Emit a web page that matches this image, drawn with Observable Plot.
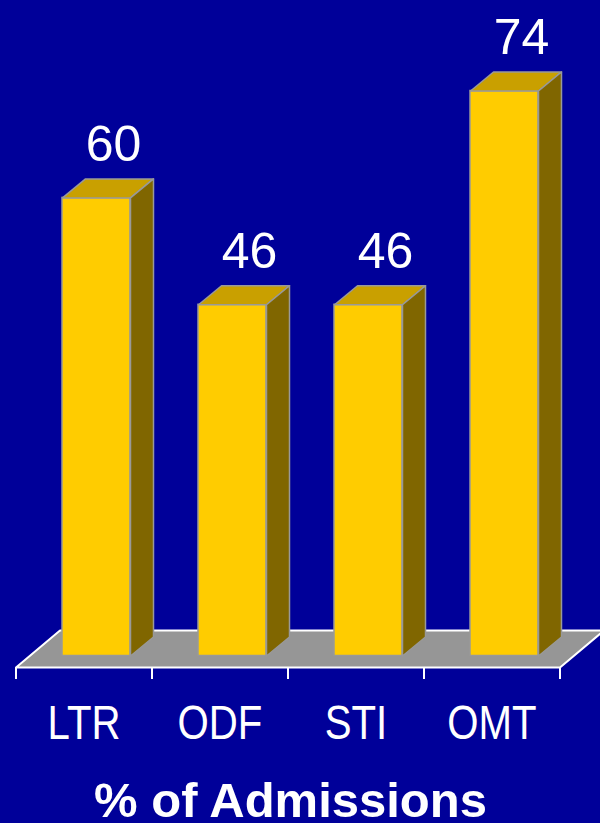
<!DOCTYPE html>
<html>
<head>
<meta charset="utf-8">
<script src="https://cdn.jsdelivr.net/npm/d3@7"></script>
<script src="https://cdn.jsdelivr.net/npm/@observablehq/plot@0.6"></script>
<style>
  html, body { margin: 0; padding: 0; background: #000099; }
  #chart svg { display: block; }
</style>
</head>
<body>
<div id="chart"></div>
<script>
// ---- data ----
const categories = ["LTR", "ODF", "STI", "OMT"];
const values = [60, 46, 46, 74];
const titleText = "% of Admissions";

// ---- layout constants (pixels) ----
const W = 600, H = 823;
const X0 = 15.5, X1 = 559.5;          // floor front edge
const Y0 = 655.5, PX_PER_UNIT = 7.635; // bar base / scale
const yMax = Y0 / PX_PER_UNIT;
const bandPx = (X1 - X0) / categories.length;
const u = px => px / bandPx;           // px -> x units
const v = px => px / PX_PER_UNIT;      // px -> y units

const barOff = u(62 - X0), barW = u(68);
const depthX = u(23), depthY = v(19);
const floorFront = v(Y0 - 667), floorBack = v(Y0 - 630), floorDX = u(44);
const tickBottom = v(Y0 - 679);

const rows = categories.map((c, i) => ({cat: c, i, value: values[i],
  xa: i + barOff, xb: i + barOff + barW}));

const tops = rows.flatMap(r => [
  {id: r.cat, x: r.xa, y: r.value},
  {id: r.cat, x: r.xb, y: r.value},
  {id: r.cat, x: r.xb + depthX, y: r.value + depthY},
  {id: r.cat, x: r.xa + depthX, y: r.value + depthY}
]);
const sides = rows.flatMap(r => [
  {id: r.cat, x: r.xb, y: 0},
  {id: r.cat, x: r.xb, y: r.value},
  {id: r.cat, x: r.xb + depthX, y: r.value + depthY},
  {id: r.cat, x: r.xb + depthX, y: depthY}
]);
const n = categories.length;
const floor = [
  {x: 0, y: floorFront}, {x: n, y: floorFront},
  {x: n + floorDX, y: floorBack}, {x: floorDX, y: floorBack}
];
const ticks = d3.range(n + 1);

const chart = Plot.plot({
  width: W, height: H,
  margin: 0,
  style: {background: "#000099", overflow: "visible"},
  x: {type: "linear", domain: [0, n], range: [X0, X1], axis: null},
  y: {type: "linear", domain: [0, yMax], range: [Y0, 0], axis: null},
  marks: [
    Plot.line(floor, {x: "x", y: "y", curve: "linear-closed", fill: "#969696", stroke: "white", strokeWidth: 2}),
    Plot.ruleX(ticks, {x: d => d, y1: floorFront, y2: tickBottom, stroke: "white", strokeWidth: 2}),
    Plot.rect(rows, {x1: "xa", x2: "xb", y1: 0, y2: "value", fill: "#FFCC00", stroke: "#999999", strokeWidth: 1.5}),
    Plot.line(tops, {x: "x", y: "y", z: "id", curve: "linear-closed", fill: "#C9A000", stroke: "#999999", strokeWidth: 1.5}),
    Plot.line(sides, {x: "x", y: "y", z: "id", curve: "linear-closed", fill: "#806600", stroke: "#999999", strokeWidth: 1.5}),
    Plot.text(rows, {x: d => d.xa + barW / 2, y: "value", text: d => String(d.value),
      dx: 17, dy: -37, lineAnchor: "bottom", fill: "white", fontSize: 50,
      fontFamily: "'Liberation Sans', Arial, sans-serif"}),
    Plot.text(rows, {x: d => d.i + 0.5, y: 0, text: "cat", dy: 82.5, lineAnchor: "bottom",
      fill: "white", fontSize: 49, fontFamily: "'Liberation Sans', Arial, sans-serif"}),
    Plot.text([titleText], {frameAnchor: "bottom", text: d => d, dx: -10, dy: -7, lineAnchor: "bottom",
      fill: "white", fontSize: 49, fontWeight: "bold", fontFamily: "'Liberation Sans', Arial, sans-serif"})
  ]
});
// narrow (condensed) look for the category labels, as in the reference
d3.select(chart).selectAll("text")
  .filter(function() { return categories.includes(this.textContent); })
  .each(function() {
    const t = this.getAttribute("transform");
    if (t) {
      this.setAttribute("transform", t + " scale(0.82,1)");
    } else {
      const x = +this.getAttribute("x") || 0, y = +this.getAttribute("y") || 0;
      this.setAttribute("transform", `translate(${x},${y}) scale(0.82,1)`);
      this.setAttribute("x", 0); this.setAttribute("y", 0);
    }
  });
document.getElementById("chart").appendChild(chart);
</script>
</body>
</html>
